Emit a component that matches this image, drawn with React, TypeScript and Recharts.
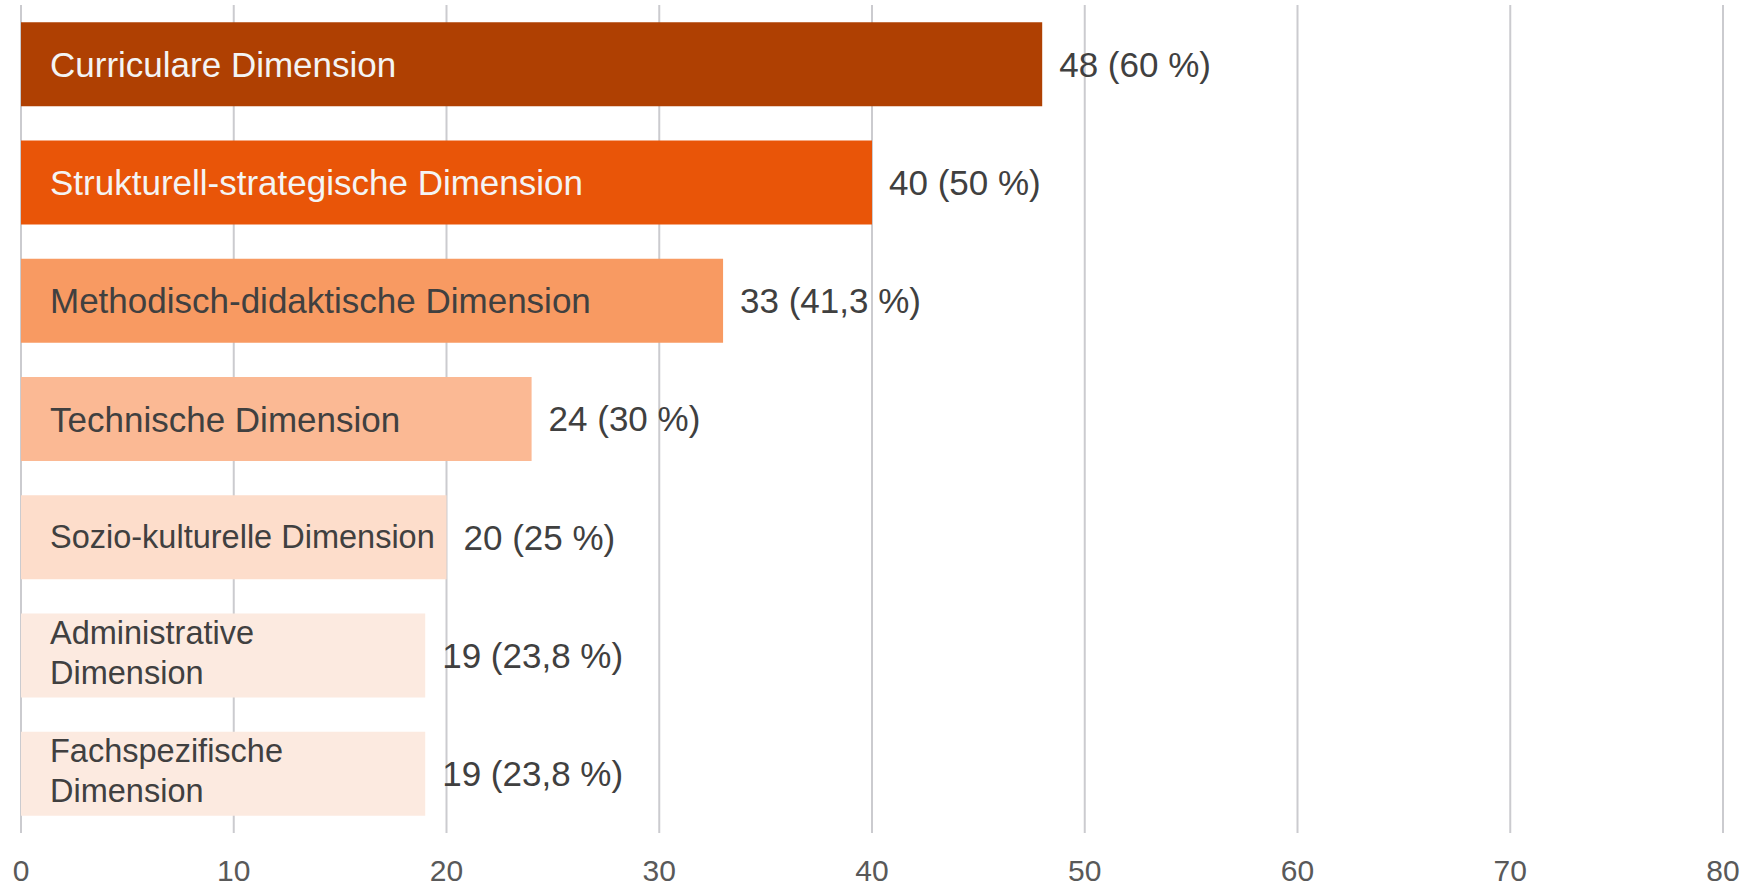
import React from 'react'
import { BarChart, Bar, XAxis, YAxis, CartesianGrid, Cell, LabelList } from 'recharts'

const categories = [
  'Curriculare Dimension',
  'Strukturell-strategische Dimension',
  'Methodisch-didaktische Dimension',
  'Technische Dimension',
  'Sozio-kulturelle Dimension',
  'Administrative Dimension',
  'Fachspezifische Dimension',
]
const counts = [48, 40, 33, 24, 20, 19, 19]
const percents = [60, 50, 41.3, 30, 25, 23.8, 23.8]
const xTicks = [0, 10, 20, 30, 40, 50, 60, 70, 80]

const barColors = ['#AF4002', '#E95508', '#F89A62', '#FBB994', '#FDDDCB', '#FCEAE0', '#FCEAE0']
const textColors = ['#F4F4F4', '#F4F4F4', '#404040', '#404040', '#404040', '#404040', '#404040']

const FONT = '"Liberation Sans", Arial, sans-serif'

const data = categories.map((name, i) => ({
  name,
  value: counts[i],
  label: `${counts[i]} (${String(percents[i]).replace('.', ',')} %)`,
}))

let ctx: CanvasRenderingContext2D | null = null
function textWidth(s: string, size: number) {
  if (!ctx) ctx = document.createElement('canvas').getContext('2d')
  if (!ctx) return s.length * size * 0.5
  ctx.font = `${size}px ${FONT}`
  return ctx.measureText(s).width
}

const PAD = 29
// narrower bars than this get their name on two lines
const MIN_ONE_LINE = 415

function CategoryLabel(props: any) {
  const { x, y, width, height, index } = props
  const name = categories[index]
  const cy = y + height / 2
  const fill = textColors[index]
  let size = 35
  let lines = [name]
  if (textWidth(name, size) + PAD + 6 > width) {
    size = 32.5
    if (width < MIN_ONE_LINE) {
      const cut = name.lastIndexOf(' ')
      lines = [name.slice(0, cut), name.slice(cut + 1)]
    }
  }
  const lh = 40
  const first = cy - ((lines.length - 1) * lh) / 2 - (lines.length > 1 ? 3 : 0)
  return (
    <text x={x + PAD} y={first} fill={fill} fontSize={size} fontFamily={FONT}>
      {lines.map((l, i) => (
        <tspan key={i} x={x + PAD} y={first + i * lh} dominantBaseline="central">
          {l}
        </tspan>
      ))}
    </text>
  )
}

export default function App() {
  return (
    <div style={{ position: 'absolute', left: 0, top: 0, background: '#fff' }}>
      <BarChart
        width={1755}
        height={893}
        data={data}
        layout="vertical"
        margin={{ top: 5, right: 32, left: 21, bottom: 0 }}
        barCategoryGap="14.5%"
      >
        <CartesianGrid vertical horizontal={false} stroke="#CBCBCF" strokeWidth={2} />
        <XAxis
          type="number"
          domain={[0, 80]}
          ticks={xTicks}
          axisLine={false}
          tickLine={false}
          height={60}
          tickMargin={21}
          interval={0}
          tick={{ fontSize: 30, fill: '#595959', fontFamily: FONT }}
        />
        <YAxis type="category" dataKey="name" hide />
        <Bar dataKey="value" isAnimationActive={false}>
          {data.map((_, i) => (
            <Cell key={i} fill={barColors[i]} />
          ))}
          <LabelList dataKey="name" content={<CategoryLabel />} />
          <LabelList
            dataKey="label"
            position="right"
            offset={17}
            fill="#404040"
            fontSize={35}
            fontFamily={FONT}
          />
        </Bar>
      </BarChart>
    </div>
  )
}
